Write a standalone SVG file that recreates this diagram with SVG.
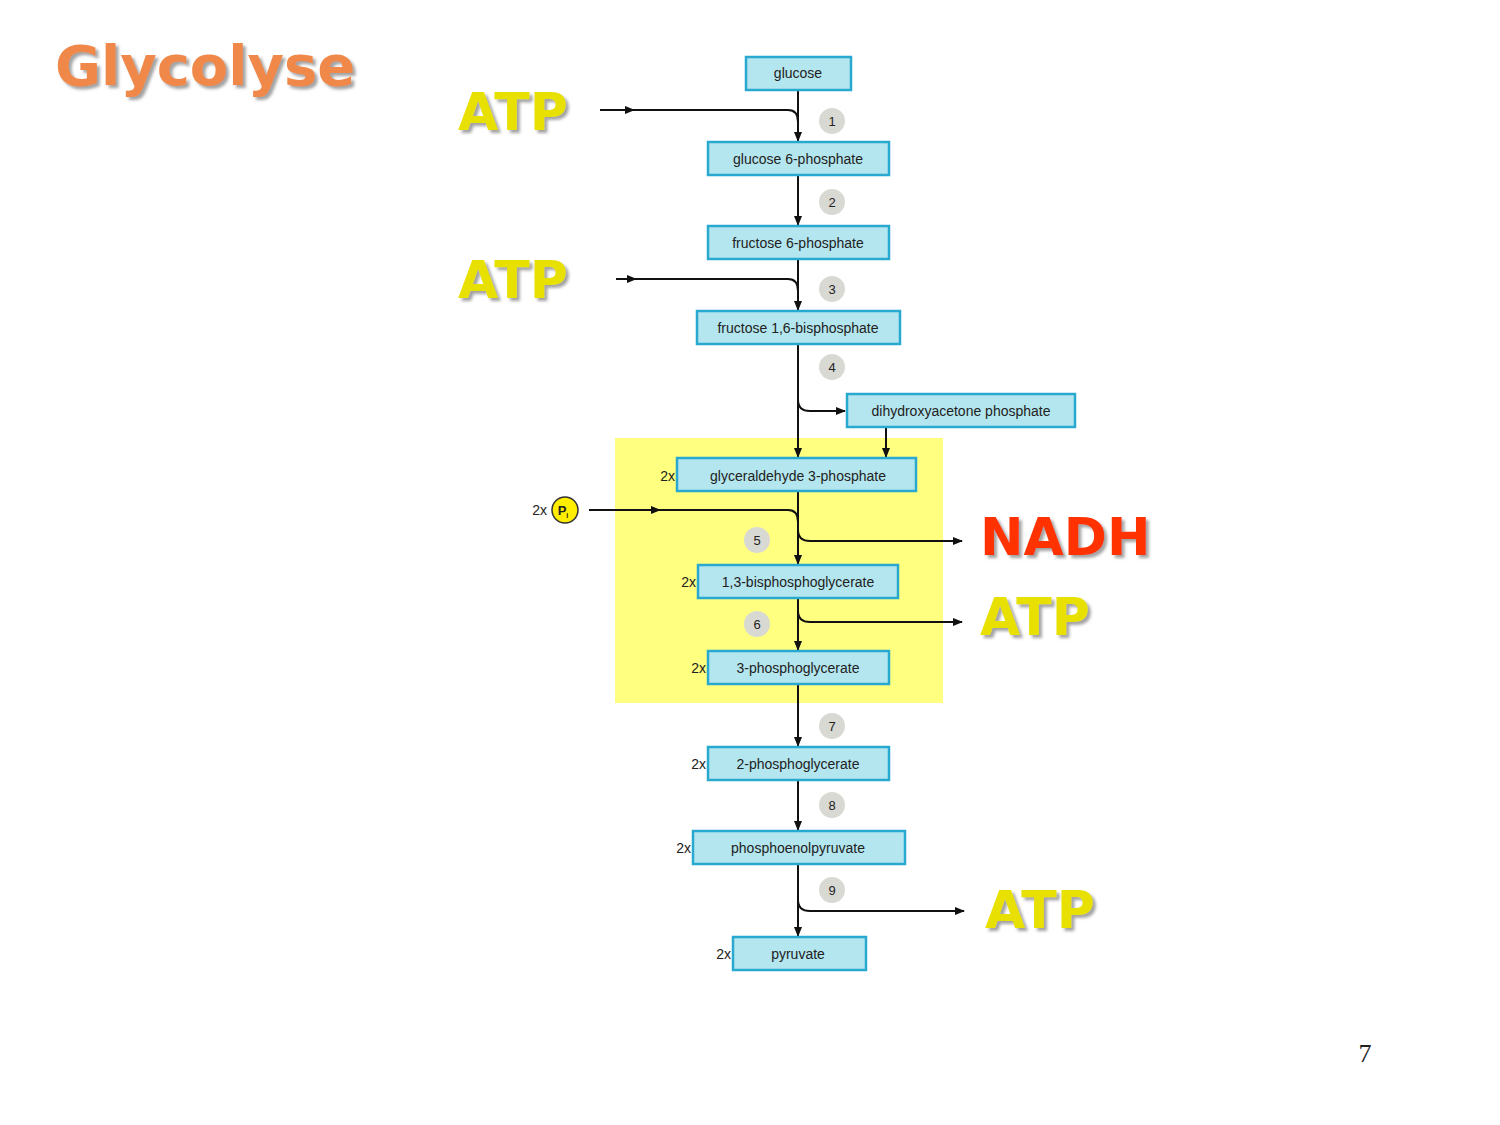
<svg xmlns="http://www.w3.org/2000/svg" width="1500" height="1125" viewBox="0 0 1500 1125">
<defs>
<marker id="ah" viewBox="0 0 10 10" refX="9" refY="5" markerWidth="5" markerHeight="5" orient="auto"><path d="M0,1 L10,5 L0,9 z" fill="#111"/></marker>
<filter id="sh" x="-10%" y="-10%" width="130%" height="130%"><feDropShadow dx="3" dy="3" stdDeviation="1.5" flood-color="#666" flood-opacity="0.6"/></filter>
</defs>
<style>
.b{fill:#b4e6ef;stroke:#29a9cf;stroke-width:2.5}
.t{font-family:"Liberation Sans",Arial,sans-serif;font-size:14px;fill:#222;text-anchor:middle}
.x{font-family:"Liberation Sans",Arial,sans-serif;font-size:14px;fill:#222;text-anchor:end}
.c{fill:#d9d9d4}
.n{font-family:"Liberation Sans",Arial,sans-serif;font-size:13px;fill:#222;text-anchor:middle}
.big{font-family:Verdana,"DejaVu Sans",sans-serif;font-weight:bold;font-size:52px}
.l{fill:none;stroke:#111;stroke-width:2}
</style>
<rect x="615" y="438" width="328" height="265" fill="#ffff80"/>
<text x="55" y="85" class="big" fill="#f0884a" filter="url(#sh)" style="font-size:56px">Glycolyse</text>
<text x="458" y="130" class="big" fill="#e8e000" filter="url(#sh)">ATP</text>
<text x="458" y="298" class="big" fill="#e8e000" filter="url(#sh)">ATP</text>
<text x="980" y="555" class="big" fill="#ff3300" filter="url(#sh)">NADH</text>
<text x="980" y="635" class="big" fill="#e8e000" filter="url(#sh)">ATP</text>
<text x="985" y="928" class="big" fill="#e8e000" filter="url(#sh)">ATP</text>
<text x="1365" y="1062" font-family="Liberation Serif,serif" font-size="26" fill="#222" text-anchor="middle">7</text>
<g id="connectors">
<path class="l" d="M798,90 V141" marker-end="url(#ah)"/>
<path class="l" d="M600,110 H788 Q798,110 798,122"/>
<path class="l" d="M600,110 H634" marker-end="url(#ah)"/>
<path class="l" d="M798,175 V225" marker-end="url(#ah)"/>
<path class="l" d="M798,259 V310" marker-end="url(#ah)"/>
<path class="l" d="M616,279 H788 Q798,279 798,291"/>
<path class="l" d="M616,279 H636" marker-end="url(#ah)"/>
<path class="l" d="M798,344 V457" marker-end="url(#ah)"/>
<path class="l" d="M798,400 Q798,411 810,411 H845" marker-end="url(#ah)"/>
<path class="l" d="M886,427 V457" marker-end="url(#ah)"/>
<path class="l" d="M798,491 V564" marker-end="url(#ah)"/>
<path class="l" d="M589,510 H788 Q798,510 798,522"/>
<path class="l" d="M589,510 H660" marker-end="url(#ah)"/>
<path class="l" d="M798,530 Q798,541 810,541 H962" marker-end="url(#ah)"/>
<path class="l" d="M798,598 V650" marker-end="url(#ah)"/>
<path class="l" d="M798,611 Q798,622 810,622 H962" marker-end="url(#ah)"/>
<path class="l" d="M798,684 V746" marker-end="url(#ah)"/>
<path class="l" d="M798,780 V830" marker-end="url(#ah)"/>
<path class="l" d="M798,864 V936" marker-end="url(#ah)"/>
<path class="l" d="M798,900 Q798,911 810,911 H964" marker-end="url(#ah)"/>
</g>
<g id="steps">
<circle class="c" cx="832" cy="121" r="13"/><text class="n" x="832" y="126">1</text>
<circle class="c" cx="832" cy="202" r="13"/><text class="n" x="832" y="207">2</text>
<circle class="c" cx="832" cy="289" r="13"/><text class="n" x="832" y="294">3</text>
<circle class="c" cx="832" cy="367" r="13"/><text class="n" x="832" y="372">4</text>
<circle class="c" cx="757" cy="540" r="13"/><text class="n" x="757" y="545">5</text>
<circle class="c" cx="757" cy="624" r="13"/><text class="n" x="757" y="629">6</text>
<circle class="c" cx="832" cy="726" r="13"/><text class="n" x="832" y="731">7</text>
<circle class="c" cx="832" cy="805" r="13"/><text class="n" x="832" y="810">8</text>
<circle class="c" cx="832" cy="890" r="13"/><text class="n" x="832" y="895">9</text>
</g>
<g id="pi"><text class="x" x="547" y="515">2x</text><circle cx="565" cy="510" r="13" fill="#ffee00" stroke="#333" stroke-width="1.5"/><text x="563" y="515" font-family="Liberation Sans,Arial,sans-serif" font-size="13" font-weight="bold" text-anchor="middle" fill="#222">P<tspan font-size="7" dy="3">i</tspan></text></g>
<g id="glucose"><rect class="b" x="746" y="57" width="105" height="33"/><text class="t" x="798" y="78">glucose</text></g>
<g id="g6p"><rect class="b" x="708" y="142" width="181" height="33"/><text class="t" x="798" y="164">glucose 6-phosphate</text></g>
<g id="f6p"><rect class="b" x="708" y="226" width="181" height="33"/><text class="t" x="798" y="248">fructose 6-phosphate</text></g>
<g id="f16bp"><rect class="b" x="697" y="311" width="203" height="33"/><text class="t" x="798" y="333">fructose 1,6-bisphosphate</text></g>
<g id="dhap"><rect class="b" x="847" y="394" width="228" height="33"/><text class="t" x="961" y="416">dihydroxyacetone phosphate</text></g>
<g id="g3p"><text class="x" x="675" y="481">2x</text><rect class="b" x="677" y="458" width="239" height="33"/><text class="t" x="798" y="481">glyceraldehyde 3-phosphate</text></g>
<g id="bpg"><text class="x" x="696" y="587">2x</text><rect class="b" x="698" y="565" width="200" height="33"/><text class="t" x="798" y="587">1,3-bisphosphoglycerate</text></g>
<g id="pg3"><text class="x" x="706" y="673">2x</text><rect class="b" x="708" y="651" width="181" height="33"/><text class="t" x="798" y="673">3-phosphoglycerate</text></g>
<g id="pg2"><text class="x" x="706" y="769">2x</text><rect class="b" x="708" y="747" width="181" height="33"/><text class="t" x="798" y="769">2-phosphoglycerate</text></g>
<g id="pep"><text class="x" x="691" y="853">2x</text><rect class="b" x="693" y="831" width="212" height="33"/><text class="t" x="798" y="853">phosphoenolpyruvate</text></g>
<g id="pyr"><text class="x" x="731" y="959">2x</text><rect class="b" x="733" y="937" width="133" height="33"/><text class="t" x="798" y="959">pyruvate</text></g>
</svg>
